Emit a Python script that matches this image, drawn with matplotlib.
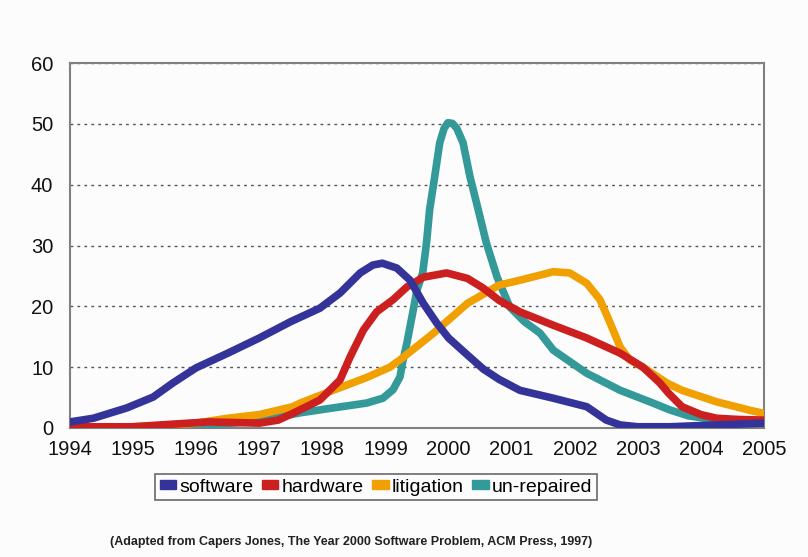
import matplotlib.pyplot as plt
from matplotlib.patches import Patch

plt.rcParams['font.family'] = ['Liberation Sans', 'DejaVu Sans']

# values
software_x = [1994, 1994.37, 1994.9, 1995.32, 1995.63, 1996.0, 1996.5, 1997.0, 1997.5, 1997.96,
              1998.28, 1998.6, 1998.8, 1998.95, 1999.18, 1999.39, 1999.6, 1999.81, 2000.0, 2000.3,
              2000.55, 2000.8, 2001.13, 2001.66, 2002.19, 2002.5, 2002.72, 2003.0, 2003.5,
              2004.0, 2004.5, 2005]
software_y = [1.0, 1.6, 3.3, 5.1, 7.4, 9.9, 12.3, 14.8, 17.5, 19.7,
              22.2, 25.5, 26.8, 27.1, 26.3, 24.3, 20.5, 17.3, 14.8, 12.0,
              9.7, 8.0, 6.2, 4.9, 3.5, 1.3, 0.5, 0.2, 0.2,
              0.4, 0.6, 0.8]

hardware_x = [1994, 1995.0, 1995.43, 1996.2, 1996.6, 1997.0, 1997.3, 1997.53, 1997.96, 1998.28,
              1998.44, 1998.65, 1998.86, 1999.12, 1999.34, 1999.6, 1999.97, 2000.3, 2000.55,
              2000.8, 2001.13, 2001.66, 2002.19, 2002.72, 2003.08, 2003.35, 2003.48, 2003.7,
              2004.0, 2004.25, 2004.6, 2005]
hardware_y = [0.2, 0.2, 0.5, 1.0, 0.9, 0.8, 1.3, 2.4, 4.6, 7.9,
              11.7, 16.1, 19.1, 21.1, 23.2, 24.8, 25.5, 24.6, 23.0,
              21.0, 19.1, 16.9, 14.8, 12.3, 10.0, 7.4, 5.8, 3.5,
              2.2, 1.6, 1.4, 1.3]

litigation_x = [1994, 1995.0, 1995.5, 1996.0, 1996.5, 1997.0, 1997.53, 1997.65, 1998.17, 1998.7,
                1999.07, 1999.23, 1999.75, 2000.3, 2000.8, 2001.13, 2001.66, 2001.92, 2002.19,
                2002.4, 2002.56, 2002.72, 2002.87, 2003.08, 2003.46, 2003.7, 2004.25, 2004.78,
                2005]
litigation_y = [0.1, 0.2, 0.4, 0.8, 1.6, 2.2, 3.5, 4.1, 6.2, 8.3,
                10.0, 11.2, 15.5, 20.5, 23.5, 24.3, 25.7, 25.5, 23.8,
                21.1, 17.3, 13.3, 11.2, 10.0, 7.4, 6.2, 4.3, 2.9,
                2.4]

unrepaired_x = [1994, 1996, 1997, 1997.65, 1998.17, 1998.7, 1998.96, 1999.12, 1999.23, 1999.28,
                1999.34, 1999.42, 1999.5, 1999.59, 1999.65, 1999.7, 1999.78, 1999.86, 1999.93,
                1999.99, 2000.06, 2000.13, 2000.23, 2000.34, 2000.47, 2000.6, 2000.77, 2000.97,
                2001.2, 2001.45, 2001.66, 2002.19, 2002.72, 2003.24, 2003.5, 2003.8, 2004.2,
                2004.6, 2005]
unrepaired_y = [0.1, 0.3, 1.2, 2.5, 3.3, 4.1, 4.9, 6.3, 8.4, 11.2,
                14.0, 18.3, 22.7, 25.5, 30.4, 35.9, 41.3, 46.9, 49.3,
                50.2, 50.1, 49.3, 46.9, 41.3, 35.9, 30.4, 24.8, 19.9,
                17.5, 15.6, 12.8, 9.0, 6.2, 4.1, 3.0, 2.0, 1.4,
                1.1, 1.0]

years = list(range(1994, 2006))
y_ticks = [0, 10, 20, 30, 40, 50, 60]

c_soft = '#333399'
c_hard = '#cc2020'
c_lit = '#f0a000'
c_unr = '#339999'

fig = plt.figure(figsize=(8.08, 5.57), dpi=100)
fig.patch.set_facecolor('#fcfcfc')
ax = fig.add_axes([0.0866, 0.2316, 0.859, 0.655])
ax.set_facecolor('#fcfcfc')

style = dict(lw=5.5, solid_capstyle='round', solid_joinstyle='round')
ax.plot(unrepaired_x, unrepaired_y, color=c_unr, zorder=3, **style)
ax.plot(litigation_x, litigation_y, color=c_lit, zorder=4, **style)
ax.plot(hardware_x, hardware_y, color=c_hard, zorder=5, **style)
ax.plot(software_x, software_y, color=c_soft, zorder=6, **style)

ax.set_xlim(1994, 2005)
ax.set_ylim(0, 60)
ax.set_xticks(years)
ax.set_yticks(y_ticks)
ax.tick_params(length=0, labelsize=14.5, colors='#111111')
ax.tick_params(axis='x', pad=9)
ax.tick_params(axis='y', pad=12)
ax.yaxis.grid(True, ls=(0, (2, 3)), color='#555555', lw=1)
for s in ax.spines.values():
    s.set_color('#808080')
    s.set_linewidth(1.5)

handles = [Patch(color=c_soft, label='software'), Patch(color=c_hard, label='hardware'),
           Patch(color=c_lit, label='litigation'), Patch(color=c_unr, label='un-repaired')]
leg = fig.legend(handles=handles, loc='center', bbox_to_anchor=(376 / 808, 1 - 487 / 557), ncol=4,
                 fontsize=14, frameon=True, fancybox=False, edgecolor='#444444',
                 handlelength=0.85, handleheight=0.35, handletextpad=0.15, columnspacing=0.45,
                 borderpad=0.25, borderaxespad=0)
leg.get_frame().set_linewidth(1.2)
leg.get_frame().set_facecolor('#fcfcfc')

fig.text(351 / 808, 1 - 542 / 557,
         '(Adapted from Capers Jones, The Year 2000 Software Problem, ACM Press, 1997)',
         ha='center', va='center', fontsize=9, fontweight='bold', color='#222222')

fig.savefig('out.png', dpi=100, facecolor=fig.get_facecolor())
